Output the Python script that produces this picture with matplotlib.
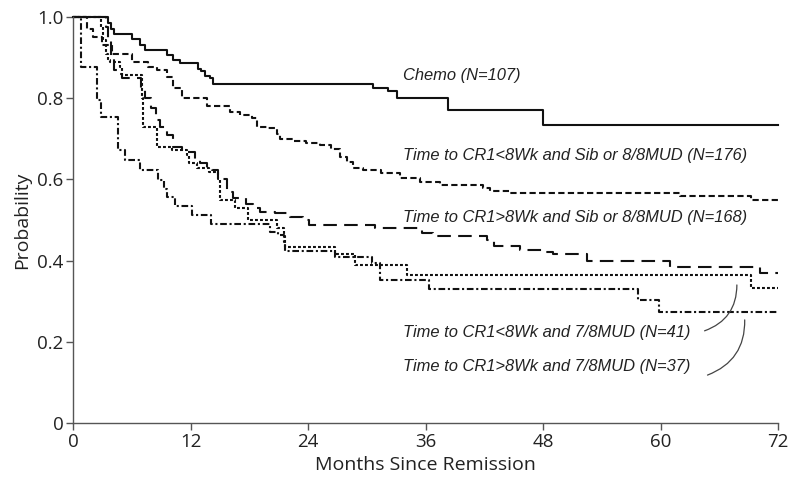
import matplotlib
matplotlib.use("Agg")
import matplotlib.pyplot as plt

# ---- data (months since remission, survival probability) ----
chemo_t = [0, 3.6, 3.9, 4.2, 6.0, 6.8, 7.3, 9.6, 10.2, 10.9, 12.8, 13.1, 13.5, 14.0, 14.3,
           30.6, 32.2, 33.1, 38.3, 48.0, 72]
chemo_s = [1.0, 0.985, 0.97, 0.958, 0.947, 0.93, 0.919, 0.906, 0.894, 0.886, 0.873, 0.866, 0.855,
           0.849, 0.835, 0.825, 0.817, 0.800, 0.771, 0.735, 0.735]

lt8_sib_t = [0, 1.4, 2.0, 3.0, 4.0, 6.0, 7.7, 8.6, 9.6, 10.2, 11.1, 13.7, 16.0, 17.1, 18.3, 18.8,
             19.8, 20.8, 21.1, 22.5, 23.8, 25.2, 26.3, 27.3, 28.0, 28.6, 29.6, 31.5, 33.4, 35.4,
             37.5, 41.9, 42.6, 44.6, 62.0, 69.2, 72]
lt8_sib_s = [1.0, 0.97, 0.95, 0.93, 0.91, 0.89, 0.877, 0.87, 0.853, 0.825, 0.80, 0.78, 0.767, 0.759,
             0.75, 0.73, 0.726, 0.713, 0.70, 0.695, 0.69, 0.685, 0.675, 0.655, 0.643, 0.628, 0.622,
             0.616, 0.603, 0.594, 0.586, 0.579, 0.572, 0.566, 0.56, 0.55, 0.55]

gt8_sib_t = [0, 3.4, 3.6, 3.9, 4.2, 4.6, 5.0, 6.9, 7.3, 8.0, 8.5, 8.9, 9.6, 10.2, 11.1, 12.5, 13.0,
             13.7, 14.2, 14.8, 15.7, 16.3, 17.7, 18.4, 19.1, 20.6, 22.2, 23.5, 24.1, 30.8, 35.6,
             36.8, 42.3, 43.0, 45.7, 48.0, 49.0, 52.5, 61.0, 70.2, 72]
gt8_sib_s = [1.0, 0.976, 0.94, 0.90, 0.87, 0.86, 0.85, 0.82, 0.80, 0.775, 0.746, 0.73, 0.709, 0.68,
             0.668, 0.648, 0.64, 0.627, 0.623, 0.60, 0.57, 0.553, 0.54, 0.529, 0.52, 0.516, 0.508,
             0.50, 0.488, 0.48, 0.467, 0.46, 0.45, 0.436, 0.426, 0.422, 0.416, 0.40, 0.385, 0.369,
             0.369]

lt8_mud_t = [0, 2.9, 3.1, 3.4, 3.6, 3.8, 4.8, 5.0, 7.0, 7.1, 8.4, 8.6, 10.1, 11.6, 11.8, 12.7,
             13.9, 14.8, 15.0, 16.5, 17.9, 20.8, 21.5, 21.6, 26.8, 28.8, 34.1, 69.2, 72]
lt8_mud_s = [1.0, 0.976, 0.943, 0.91, 0.894, 0.89, 0.877, 0.857, 0.80, 0.73, 0.73, 0.68, 0.672,
             0.66, 0.64, 0.627, 0.619, 0.60, 0.549, 0.529, 0.50, 0.48, 0.46, 0.434, 0.416, 0.39,
             0.364, 0.332, 0.332]

gt8_mud_t = [0, 0.8, 2.4, 2.9, 4.6, 5.3, 6.8, 8.7, 9.3, 9.6, 10.4, 12.1, 14.1, 20.1, 20.9, 21.5,
             21.6, 26.8, 30.5, 31.4, 36.4, 57.7, 59.8, 72]
gt8_mud_s = [1.0, 0.877, 0.795, 0.754, 0.672, 0.648, 0.623, 0.598, 0.577, 0.557, 0.534, 0.512,
             0.490, 0.471, 0.463, 0.445, 0.424, 0.41, 0.394, 0.352, 0.329, 0.303, 0.273, 0.273]

labels = ["Chemo (N=107)",
          "Time to CR1<8Wk and Sib or 8/8MUD (N=176)",
          "Time to CR1>8Wk and Sib or 8/8MUD (N=168)",
          "Time to CR1<8Wk and 7/8MUD (N=41)",
          "Time to CR1>8Wk and 7/8MUD (N=37)"]
label_x = 33.7
label_y = [0.857, 0.660, 0.507, 0.224, 0.140]

x_ticks = [0, 12, 24, 36, 48, 60, 72]
y_ticks = [0, 0.2, 0.4, 0.6, 0.8, 1.0]
y_ticklabels = ["0", "0.2", "0.4", "0.6", "0.8", "1.0"]

# ---- figure ----
fig = plt.figure(figsize=(8.0, 4.91), dpi=100)
ax = fig.add_axes([0.0913, 0.1385, 0.8812, 0.8269])

col = "#111111"
lw = 1.5
ax.step(chemo_t, chemo_s, where="post", color=col, lw=lw, clip_on=False)
ax.step(lt8_sib_t, lt8_sib_s, where="post", color=col, lw=lw, dashes=(3.0, 1.6), clip_on=False)
ax.step(gt8_sib_t, gt8_sib_s, where="post", color=col, lw=lw, dashes=(6.5, 3.5), clip_on=False)
ax.step(lt8_mud_t, lt8_mud_s, where="post", color=col, lw=lw, dashes=(1.4, 1.0), clip_on=False)
ax.step(gt8_mud_t, gt8_mud_s, where="post", color=col, lw=lw, dashes=(3.2, 1.3, 1.0, 1.3),
        clip_on=False)

for lab, ly in zip(labels, label_y):
    ax.text(label_x, ly, lab, fontsize=11.9, style="italic", va="center", ha="left",
            family=["Liberation Sans", "DejaVu Sans"], color="#222222")

# leader lines
ax.annotate("", xy=(67.8, 0.340), xytext=(64.5, 0.227),
            arrowprops=dict(arrowstyle="-", connectionstyle="arc3,rad=0.35", color="#444444",
                            lw=0.9, shrinkA=0, shrinkB=0))
ax.annotate("", xy=(68.6, 0.254), xytext=(64.8, 0.118),
            arrowprops=dict(arrowstyle="-", connectionstyle="arc3,rad=0.35", color="#444444",
                            lw=0.9, shrinkA=0, shrinkB=0))

ax.set_xlim(0, 72)
ax.set_ylim(0, 1.0)
ax.set_xticks(x_ticks)
ax.set_yticks(y_ticks)
ax.set_yticklabels(y_ticklabels)

tick_font = ["Liberation Sans Narrow", "Open Sans", "DejaVu Sans"]
for t in ax.get_xticklabels() + ax.get_yticklabels():
    t.set_family(tick_font)
    t.set_fontsize(13.5)
    t.set_color("#222222")

ax.set_xlabel("Months Since Remission", fontsize=14, family=["Open Sans", "DejaVu Sans"],
              color="#222222", labelpad=4)
ax.set_ylabel("Probability", fontsize=14, family=["Open Sans", "DejaVu Sans"],
              color="#222222", labelpad=4)

for s in ["top", "right"]:
    ax.spines[s].set_visible(False)
for s in ["left", "bottom"]:
    ax.spines[s].set_color("#555555")
    ax.spines[s].set_linewidth(1.0)
ax.tick_params(direction="out", length=5, width=1.0, color="#555555", pad=2)

fig.savefig("out.png", dpi=100)
